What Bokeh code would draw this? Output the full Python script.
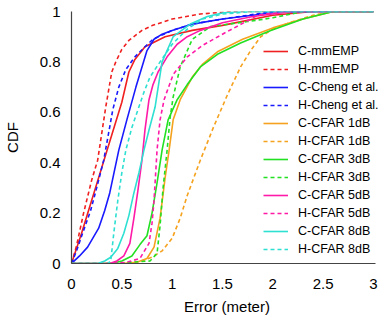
from bokeh.plotting import figure
from bokeh.models import Legend, LegendItem, FixedTicker
from bokeh.embed import file_html
from bokeh.resources import INLINE

# ---- data ----
c_mmemp_x = [0, 0.1, 0.2, 0.3, 0.4, 0.5, 0.57, 0.63, 0.73, 0.93, 1.2, 1.5, 2.0, 2.4, 3.0]
c_mmemp_y = [0, 0.12, 0.25, 0.38, 0.51, 0.64, 0.76, 0.81, 0.86, 0.90, 0.925, 0.945, 0.985, 1.0, 1.0]

h_mmemp_x = [0, 0.05, 0.12, 0.2, 0.26, 0.34, 0.4, 0.44, 0.5, 0.57, 0.7, 0.8, 1.0, 1.28, 1.6, 3.0]
h_mmemp_y = [0, 0.07, 0.2, 0.33, 0.41, 0.62, 0.76, 0.80, 0.85, 0.885, 0.925, 0.944, 0.97, 0.99, 1.0, 1.0]

c_cheng_x = [0, 0.08, 0.16, 0.27, 0.33, 0.38, 0.47, 0.55, 0.64, 0.75, 0.82, 0.9, 1.0, 1.2, 1.5, 2.0, 2.3, 3.0]
c_cheng_y = [0, 0.03, 0.065, 0.14, 0.21, 0.28, 0.45, 0.57, 0.70, 0.845, 0.89, 0.91, 0.925, 0.95, 0.97, 0.995, 1.0, 1.0]

h_cheng_x = [0, 0.05, 0.11, 0.19, 0.25, 0.32, 0.37, 0.41, 0.47, 0.54, 0.63, 0.73, 0.81, 1.0, 1.2, 1.5, 2.0, 3.0]
h_cheng_y = [0, 0.05, 0.12, 0.21, 0.30, 0.41, 0.52, 0.61, 0.70, 0.77, 0.82, 0.86, 0.89, 0.925, 0.95, 0.97, 1.0, 1.0]

c_cfar1_x = [0, 0.5, 0.65, 0.75, 0.82, 0.88, 0.93, 0.97, 1.01, 1.08, 1.2, 1.3, 1.45, 1.7, 2.0, 2.3, 2.6, 3.0]
c_cfar1_y = [0, 0, 0.005, 0.02, 0.065, 0.18, 0.34, 0.45, 0.57, 0.65, 0.74, 0.79, 0.84, 0.89, 0.935, 0.97, 1.0, 1.0]

h_cfar1_x = [0, 0.5, 0.7, 0.8, 0.9, 1.0, 1.08, 1.15, 1.28, 1.41, 1.55, 1.68, 1.78, 1.88, 2.0, 2.17, 2.4, 2.6, 3.0]
h_cfar1_y = [0, 0, 0.01, 0.025, 0.05, 0.1, 0.18, 0.27, 0.41, 0.54, 0.67, 0.78, 0.845, 0.90, 0.93, 0.956, 0.985, 1.0, 1.0]

c_cfar3_x = [0, 0.4, 0.5, 0.6, 0.68, 0.75, 0.8, 0.85, 0.9, 0.96, 1.05, 1.15, 1.28, 1.45, 1.68, 1.98, 2.3, 2.6, 3.0]
c_cfar3_y = [0, 0, 0.01, 0.03, 0.075, 0.11, 0.2, 0.32, 0.45, 0.57, 0.65, 0.71, 0.78, 0.83, 0.875, 0.925, 0.97, 1.0, 1.0]

h_cfar3_x = [0, 0.4, 0.6, 0.78, 0.85, 0.88, 0.91, 0.95, 0.98, 1.01, 1.08, 1.2, 1.38, 1.75, 2.0, 2.3, 3.0]
h_cfar3_y = [0, 0, 0.005, 0.01, 0.04, 0.15, 0.3, 0.45, 0.58, 0.66, 0.78, 0.89, 0.94, 0.96, 0.975, 1.0, 1.0]

c_cfar5_x = [0, 0.38, 0.45, 0.52, 0.58, 0.62, 0.66, 0.70, 0.73, 0.77, 0.81, 0.86, 0.95, 1.05, 1.15, 1.28, 1.5, 1.8, 2.2, 3.0]
c_cfar5_y = [0, 0, 0.01, 0.03, 0.08, 0.18, 0.29, 0.41, 0.53, 0.65, 0.71, 0.76, 0.82, 0.87, 0.90, 0.925, 0.955, 0.98, 1.0, 1.0]

h_cfar5_x = [0, 0.4, 0.55, 0.68, 0.77, 0.80, 0.82, 0.85, 0.88, 0.92, 1.01, 1.15, 1.3, 1.5, 1.85, 2.1, 3.0]
h_cfar5_y = [0, 0, 0.005, 0.02, 0.08, 0.16, 0.25, 0.45, 0.57, 0.65, 0.75, 0.82, 0.865, 0.91, 0.985, 1.0, 1.0]

c_cfar8_x = [0, 0.26, 0.33, 0.39, 0.46, 0.52, 0.57, 0.62, 0.67, 0.72, 0.77, 0.83, 0.9, 1.01, 1.18, 1.35, 1.51, 1.7, 3.0]
c_cfar8_y = [0, 0, 0.01, 0.025, 0.06, 0.12, 0.19, 0.28, 0.36, 0.45, 0.53, 0.62, 0.80, 0.90, 0.95, 0.98, 0.995, 1.0, 1.0]

h_cfar8_x = [0, 0.36, 0.39, 0.42, 0.46, 0.50, 0.54, 0.60, 0.66, 0.72, 0.78, 0.88, 1.0, 1.15, 1.3, 1.5, 1.8, 3.0]
h_cfar8_y = [0, 0, 0.01, 0.12, 0.25, 0.36, 0.45, 0.54, 0.61, 0.68, 0.74, 0.80, 0.87, 0.93, 0.97, 0.99, 1.0, 1.0]

series_names = ["C-mmEMP", "H-mmEMP", "C-Cheng et al.", "H-Cheng et al.",
                "C-CFAR 1dB", "H-CFAR 1dB", "C-CFAR 3dB", "H-CFAR 3dB",
                "C-CFAR 5dB", "H-CFAR 5dB", "C-CFAR 8dB", "H-CFAR 8dB"]

x_ticks = [0, 0.5, 1, 1.5, 2, 2.5, 3]
x_tick_labels = ["0", "0.5", "1", "1.5", "2", "2.5", "3"]
y_ticks = [0, 0.2, 0.4, 0.6, 0.8, 1.0]
y_tick_labels = ["0", "0.2", "0.4", "0.6", "0.8", "1"]

# ---- styles ----
RED = "#f02020"
BLUE = "#1a1aff"
ORANGE = "#f5a21e"
GREEN = "#22e022"
MAGENTA = "#ff1aa8"
CYAN = "#2ee0d2"

series = [
    (c_mmemp_x, c_mmemp_y, RED, "solid"),
    (h_mmemp_x, h_mmemp_y, RED, "dashed"),
    (c_cheng_x, c_cheng_y, BLUE, "solid"),
    (h_cheng_x, h_cheng_y, BLUE, "dashed"),
    (c_cfar1_x, c_cfar1_y, ORANGE, "solid"),
    (h_cfar1_x, h_cfar1_y, ORANGE, "dashed"),
    (c_cfar3_x, c_cfar3_y, GREEN, "solid"),
    (h_cfar3_x, h_cfar3_y, GREEN, "dashed"),
    (c_cfar5_x, c_cfar5_y, MAGENTA, "solid"),
    (h_cfar5_x, h_cfar5_y, MAGENTA, "dashed"),
    (c_cfar8_x, c_cfar8_y, CYAN, "solid"),
    (h_cfar8_x, h_cfar8_y, CYAN, "dashed"),
]

FONT = "Liberation Sans"

p = figure(width=382, height=318, output_backend="svg", toolbar_location=None,
           x_range=(0, 3.09), y_range=(0, 1.0),
           min_border_left=71, min_border_right=0, min_border_top=11, min_border_bottom=55)
p.background_fill_color = "white"
p.border_fill_color = "white"
p.outline_line_color = None
p.xgrid.visible = False
p.ygrid.visible = False

items = []
for (xs, ys, col, kind), name in zip(series, series_names):
    if kind == "solid":
        r = p.line(xs, ys, line_color=col, line_width=1.6)
    else:
        r = p.line(xs, ys, line_color=col, line_width=1.6, line_dash="4 3")
    items.append(LegendItem(label=name, renderers=[r]))

for ax in (p.xaxis[0], p.yaxis[0]):
    ax.axis_line_color = "#444444"
    ax.axis_line_width = 1.2
    ax.major_tick_line_color = None
    ax.minor_tick_line_color = None
    ax.major_tick_in = 0
    ax.major_tick_out = 0
    ax.minor_tick_in = 0
    ax.minor_tick_out = 0
    ax.major_label_text_font = FONT
    ax.major_label_text_font_size = "15px"
    ax.major_label_text_color = "black"
    ax.axis_label_text_font = FONT
    ax.axis_label_text_font_size = "15px"
    ax.axis_label_text_font_style = "normal"
    ax.axis_label_text_color = "black"

p.xaxis.bounds = (0, 3.02)
p.xaxis.ticker = FixedTicker(ticks=x_ticks)
p.xaxis.major_label_overrides = dict(zip(x_ticks, x_tick_labels))
p.yaxis.ticker = FixedTicker(ticks=y_ticks)
p.yaxis.major_label_overrides = dict(zip(y_ticks, y_tick_labels))
p.xaxis.major_label_standoff = 15
p.yaxis.major_label_standoff = 11
p.xaxis.axis_label = "Error (meter)"
p.yaxis.axis_label = "CDF"
p.xaxis.axis_label_standoff = 6
p.yaxis.axis_label_standoff = 16

legend = Legend(items=items, location=(192, 5))
legend.background_fill_alpha = 0
legend.border_line_color = None
legend.padding = 0
legend.margin = 0
legend.spacing = 0
legend.glyph_width = 25
legend.glyph_height = 18
legend.label_height = 18
legend.label_standoff = 10
legend.label_text_font = FONT
legend.label_text_font_size = "12.5px"
legend.label_text_color = "black"
p.add_layout(legend, "center")

open("out.html", "w").write(file_html(p, INLINE))
